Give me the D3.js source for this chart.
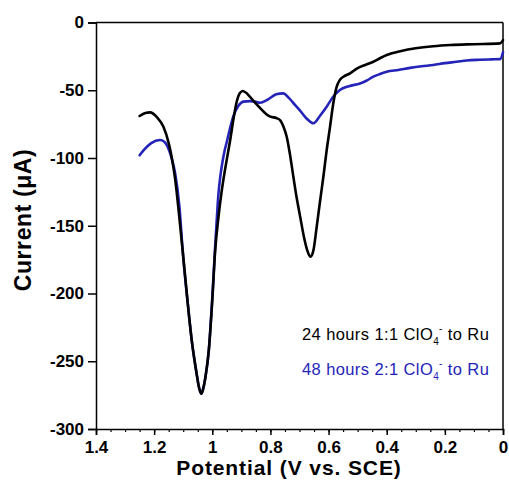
<!DOCTYPE html>
<html>
<head>
<meta charset="utf-8">
<script src="https://cdn.jsdelivr.net/npm/d3@7"></script>
<style>
    body { margin: 0; background: #fff; }
    svg { display: block; }
</style>
</head>
<body>
<svg id="chart"></svg>
<script>

// potential (V vs. SCE) and current (uA) for the 24 hour run
let blackPotential = [1.25, 1.23, 1.214, 1.19, 1.168, 1.15, 1.14, 1.128, 1.117, 1.102, 1.085, 1.071, 1.054, 1.046,
    1.038, 1.031, 1.023, 1.012, 1.0, 0.99, 0.98, 0.968, 0.958, 0.95, 0.939, 0.927, 0.916, 0.905, 0.895, 0.88,
    0.86, 0.836, 0.815, 0.8, 0.78, 0.767, 0.755, 0.744, 0.733, 0.721, 0.71, 0.698, 0.684, 0.672, 0.662,
    0.652, 0.641, 0.63, 0.618, 0.607, 0.595, 0.584, 0.572, 0.56, 0.549, 0.526, 0.503, 0.47, 0.446, 0.42,
    0.4, 0.35, 0.3, 0.24, 0.18, 0.1, 0.01, 0.0];
let blackCurrent = [-69, -66.8, -66.3, -70, -77, -89, -99, -115, -136, -168, -206, -234, -259, -269,
    -274, -270, -261, -242, -205, -168, -146, -125, -111, -101, -87.5, -71, -58.5, -52, -50.5, -52.5,
    -57.5, -63, -67.5, -69.5, -70.5, -72, -77, -84.3, -97, -114, -129, -143, -159, -169, -172.8,
    -168, -151, -133, -114, -95, -77, -60, -47.4, -42, -40, -37.5, -34, -31, -29, -26,
    -24, -21, -19, -17.5, -16.6, -16, -15.4, -13];

// potential (V vs. SCE) and current (uA) for the 48 hour run
let bluePotential = [1.25, 1.235, 1.21, 1.18, 1.165, 1.151, 1.14, 1.128, 1.113, 1.102, 1.085, 1.071, 1.054, 1.046,
    1.038, 1.031, 1.023, 1.012, 1.0, 0.99, 0.985, 0.979, 0.972, 0.965, 0.958, 0.95, 0.94, 0.928, 0.91, 0.893,
    0.87, 0.85, 0.836, 0.81, 0.78, 0.756, 0.735, 0.715, 0.698, 0.675, 0.652, 0.63, 0.606, 0.585, 0.561,
    0.53, 0.492, 0.47, 0.446, 0.423, 0.4, 0.36, 0.32, 0.28, 0.24, 0.2, 0.16, 0.125, 0.08, 0.04, 0.01, 0.0];
let blueCurrent = [-98, -94, -89, -86.7, -88, -93, -100, -111, -136, -168, -206, -234, -259, -269,
    -274, -270, -261, -242, -203, -165, -147, -127, -113, -103, -95, -88, -79, -69.5, -61.5, -58.4,
    -58, -58.5, -59.2, -57, -53, -52.3, -56, -61, -65, -71, -74.4, -69, -62, -55, -49.8,
    -47, -45, -43, -40, -38, -36.3, -35, -33.5, -32.3, -31.4, -30, -29, -28, -27.5, -27.2, -27, -22];

// axis ticks
let xTicks = [1.4, 1.2, 1, 0.8, 0.6, 0.4, 0.2, 0];
let xMinorTicks = d3.range(0, 29).map((i) => i * 0.05);
let yTicks = [0, -50, -100, -150, -200, -250, -300];

// legend entries
let legendLabels = ["24 hours 1:1 ClO", "48 hours 2:1 ClO"];
let legendColors = ["#000000", "#2424b8"];

// size of the whole picture
let width = 509;
let height = 486;
let margin = {top: 22.5, right: 6, bottom: 57, left: 96};
let fontFamily = "Arial, 'Liberation Sans', sans-serif";

let svg = d3.select("#chart")
    .attr("width", width)
    .attr("height", height)
    .style("font-family", fontFamily);

// potential runs from high to low
let x = d3.scaleLinear()
    .domain([1.4, 0])
    .range([margin.left, width - margin.right]);

let y = d3.scaleLinear()
    .domain([-300, 0])
    .range([height - margin.bottom, margin.top]);

// frame lines on the top and right
svg.append("line")
    .attr("x1", x(1.4)).attr("x2", x(0))
    .attr("y1", y(0)).attr("y2", y(0))
    .attr("stroke", "#000").attr("stroke-width", 1.5);
svg.append("line")
    .attr("x1", x(0)).attr("x2", x(0))
    .attr("y1", y(0)).attr("y2", y(-300))
    .attr("stroke", "#000").attr("stroke-width", 1.5);

// minor ticks on the bottom axis
svg.append("g")
    .attr("transform", "translate(0," + y(-300) + ")")
    .call(d3.axisBottom(x).tickValues(xMinorTicks).tickSize(3).tickFormat(""))
    .call((g) => g.select(".domain").remove())
    .selectAll("line").attr("stroke-width", 1.2);

// bottom axis
let xAxis = svg.append("g")
    .attr("transform", "translate(0," + y(-300) + ")")
    .call(d3.axisBottom(x).tickValues(xTicks).tickSize(6).tickPadding(6).tickFormat((d) => String(d)));

// left axis, plain hyphen for the minus sign
let yAxis = svg.append("g")
    .attr("transform", "translate(" + x(1.4) + ",0)")
    .call(d3.axisLeft(y).tickValues(yTicks).tickSize(8).tickPadding(4).tickFormat((d) => String(d)));

[xAxis, yAxis].forEach((g) => {
    g.select(".domain").attr("stroke-width", 1.5);
    g.selectAll(".tick line").attr("stroke-width", 1.5);
    g.selectAll(".tick text")
        .attr("fill", "#000")
        .style("font-size", "17px")
        .style("font-weight", "bold")
        .style("font-family", fontFamily);
});

// axis titles
svg.append("text")
    .attr("x", 289)
    .attr("y", 475)
    .attr("text-anchor", "middle")
    .style("font-size", "21px")
    .style("font-weight", "bold")
    .style("letter-spacing", "0.9px")
    .text("Potential (V vs. SCE)");

svg.append("text")
    .attr("transform", "translate(31,220) rotate(-90)")
    .attr("text-anchor", "middle")
    .style("font-size", "23px")
    .style("font-weight", "bold")
    .style("letter-spacing", "0.6px")
    .text("Current (\u03bcA)");

// line generator for both traces
let line = d3.line()
    .x((d) => x(d[0]))
    .y((d) => y(d[1]))
    .curve(d3.curveMonotoneX);

let traces = [
    {potential: blackPotential, current: blackCurrent, color: legendColors[0]},
    {potential: bluePotential, current: blueCurrent, color: legendColors[1]}
];

// draw the 24 hour trace last so it sits on top, as in the figure
traces.slice().reverse().forEach((t) => {
    let points = t.potential.map((p, i) => [p, t.current[i]]);
    svg.append("path")
        .datum(points)
        .attr("fill", "none")
        .attr("stroke", t.color)
        .attr("stroke-width", 2.6)
        .attr("stroke-linejoin", "round")
        .attr("stroke-linecap", "round")
        .attr("d", line);
});

// legend text with the perchlorate sub and superscript
legendLabels.forEach((label, i) => {
    let text = svg.append("text")
        .attr("x", 302)
        .attr("y", 340 + i * 35)
        .attr("fill", legendColors[i])
        .style("font-size", "16.5px")
        .style("letter-spacing", "0.4px");
    text.append("tspan").text(label);
    text.append("tspan")
        .attr("dy", 5)
        .style("font-size", "10px")
        .text("4");
    text.append("tspan")
        .attr("dy", -13)
        .style("font-size", "10px")
        .text("-");
    text.append("tspan")
        .attr("dy", 8)
        .text(" to Ru");
});

</script>
</body>
</html>
